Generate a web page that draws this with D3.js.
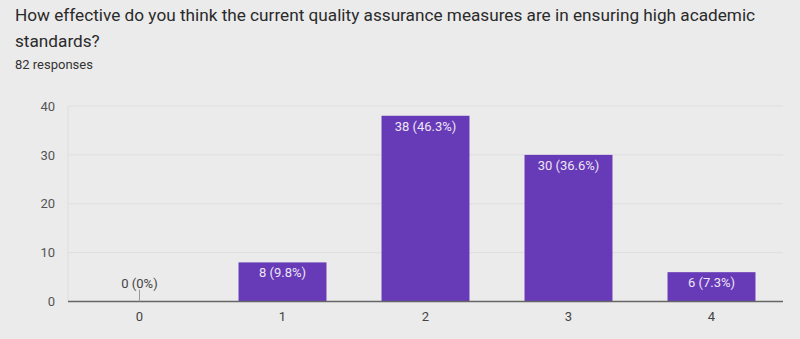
<!DOCTYPE html>
<html><head><meta charset="utf-8">
<script src="https://cdn.jsdelivr.net/npm/d3@7"></script>
<style>
html,body{margin:0;padding:0;background:#ebebeb;}
svg{display:block;font-family:Roboto,Arial,sans-serif;}
</style></head>
<body>
<svg id="c" width="800" height="339"></svg>
<script>
const titleLines = ["How effective do you think the current quality assurance measures are in ensuring high academic", "standards?"];
const subtitle = "82 responses";
const categories = ["0", "1", "2", "3", "4"];
const counts = [0, 8, 38, 30, 6];
const percents = ["0%", "9.8%", "46.3%", "36.6%", "7.3%"];
const yTicks = [0, 10, 20, 30, 40];

const svg = d3.select("#c");
svg.append("rect").attr("width", 800).attr("height", 339).attr("fill", "#ebebeb");

svg.selectAll("text.title").data(titleLines).join("text")
  .attr("class", "title")
  .attr("x", 15).attr("y", (d, i) => 21 + i * 25.5)
  .attr("font-size", 17.2).attr("fill", "#2a2a2a").text(d => d);
svg.append("text").attr("x", 15).attr("y", 69).attr("font-size", 13)
  .attr("fill", "#333").text(subtitle);

const pLeft = 68, pRight = 783, pTop = 106, pBottom = 301.5;
const x = d3.scaleBand().domain(categories).range([pLeft, pRight]).paddingInner(0.385).paddingOuter(0.1925);
const y = d3.scaleLinear().domain([0, 40]).range([pBottom, pTop]);

// gridlines
svg.append("g").selectAll("line").data(yTicks.filter(t => t > 0)).join("line")
  .attr("x1", pLeft).attr("x2", pRight)
  .attr("y1", d => y(d)).attr("y2", d => y(d))
  .attr("stroke", "#dedede").attr("stroke-width", 1);
svg.append("line").attr("x1", pLeft).attr("x2", pLeft).attr("y1", pTop).attr("y2", pBottom)
  .attr("stroke", "#dedede");

// y axis labels
const yAxis = d3.axisLeft(y).tickValues(yTicks).tickSize(0).tickPadding(13);
const ga = svg.append("g").attr("transform", `translate(${pLeft},0)`).call(yAxis);
ga.select(".domain").remove();
ga.selectAll("text").attr("font-size", 13).attr("fill", "#555").attr("font-family", "Roboto,Arial,sans-serif");

// bars
svg.append("g").selectAll("rect").data(counts).join("rect")
  .attr("x", (d, i) => x(categories[i]))
  .attr("y", d => y(d))
  .attr("width", x.bandwidth())
  .attr("height", d => pBottom - y(d))
  .attr("fill", "#673ab7");

// baseline
svg.append("line").attr("x1", pLeft).attr("x2", pRight).attr("y1", pBottom).attr("y2", pBottom)
  .attr("stroke", "#666").attr("stroke-width", 1.5);

// labels
counts.forEach((d, i) => {
  const cx = x(categories[i]) + x.bandwidth() / 2;
  const label = `${d} (${percents[i]})`;
  if (d === 0) {
    svg.append("line").attr("x1", cx).attr("x2", cx).attr("y1", pBottom - 12).attr("y2", pBottom)
      .attr("stroke", "#999").attr("stroke-width", 1);
    svg.append("text").attr("x", cx).attr("y", pBottom - 14).attr("text-anchor", "middle")
      .attr("font-size", 13).attr("fill", "#444").text(label);
  } else {
    svg.append("text").attr("x", cx).attr("y", y(d) + 15).attr("text-anchor", "middle")
      .attr("font-size", 13).attr("fill", "#ece6f6").text(label);
  }
});

// x axis labels
const xAxis = d3.axisBottom(x).tickSize(0).tickPadding(10);
const gx = svg.append("g").attr("transform", `translate(0,${pBottom})`).call(xAxis);
gx.select(".domain").remove();
gx.selectAll("text").attr("font-size", 13).attr("fill", "#444").attr("font-family", "Roboto,Arial,sans-serif");
</script>
</body></html>
